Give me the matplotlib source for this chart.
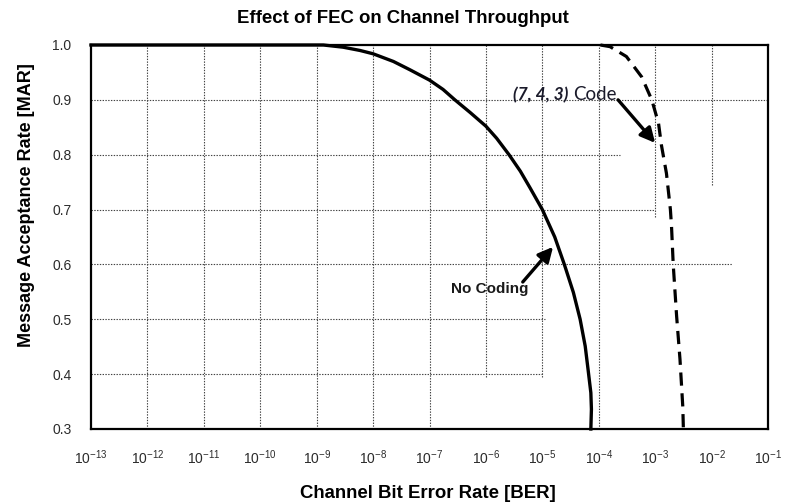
import numpy as np
import matplotlib
matplotlib.use('Agg')
import matplotlib.pyplot as plt

plt.rcParams['font.family'] = ['Liberation Sans', 'DejaVu Sans']
plt.rcParams['mathtext.fontset'] = 'custom'
plt.rcParams['mathtext.rm'] = 'Liberation Sans'
plt.rcParams['mathtext.it'] = 'Liberation Sans:italic'
plt.rcParams['lines.scale_dashes'] = False

# No Coding curve (log10 BER, MAR)
nocode_logber = [-13, -12, -11, -10, -9, -8.88, -8.53, -8.23, -8.0, -7.64, -7.35, -7.0,
                 -6.76, -6.55, -6.28, -6.0, -5.81, -5.59, -5.39, -5.22, -5.0, -4.89,
                 -4.78, -4.61, -4.45, -4.33, -4.24, -4.19, -4.14, -4.13, -4.14]
nocode_mar = [1.0, 1.0, 1.0, 1.0, 1.0, 1.0, 0.996, 0.990, 0.984, 0.970, 0.955, 0.936,
              0.919, 0.9, 0.877, 0.852, 0.830, 0.8, 0.770, 0.740, 0.70, 0.675,
              0.65, 0.60, 0.549, 0.5, 0.451, 0.409, 0.366, 0.336, 0.3]

# (7, 4, 3) code curve
code_logber = [-3.97, -3.80, -3.51, -3.24, -3.06, -2.94, -2.89, -2.80, -2.73, -2.71,
               -2.68, -2.62, -2.56, -2.51, -2.50]
code_mar = [1.0, 0.997, 0.979, 0.942, 0.9, 0.857, 0.818, 0.766, 0.70, 0.669,
            0.6, 0.506, 0.427, 0.34, 0.3]

# gridlines as they appear (some are cut short in the original)
vgrid_exp = [-12, -11, -10, -9, -8, -7, -6, -5, -4, -3, -2]
vgrid_low = [0.3, 0.3, 0.3, 0.3, 0.3, 0.3, 0.395, 0.395, 0.3, 0.687, 0.745]
hgrid_y = [0.4, 0.5, 0.6, 0.7, 0.8, 0.9]
hgrid_end = [-4.99, -4.95, -1.644, -3.0, -3.62, -1.0]

xtick_exp = list(range(-13, 0))
ytick_vals = [0.3, 0.4, 0.5, 0.6, 0.7, 0.8, 0.9, 1.0]

W, H = 787, 504
fig = plt.figure(figsize=(W / 100, H / 100), dpi=100)
ax = fig.add_axes([91 / W, 1 - 429 / H, 677 / W, 384 / H])
ax.set_xscale('log')
ax.set_xlim(1e-13, 1e-1)
ax.set_ylim(0.3, 1.0)

grid_kw = dict(color='#444444', lw=0.8, linestyle=(0, (1, 1)), zorder=1)
ax.vlines([10.0 ** e for e in vgrid_exp], vgrid_low, 1.0, **grid_kw)
ax.hlines(hgrid_y, 1e-13, [10.0 ** e for e in hgrid_end], **grid_kw)

ax.plot(10.0 ** np.array(nocode_logber), nocode_mar, color='black', lw=2.4,
        solid_joinstyle='round', zorder=3, clip_on=False)
ax.plot(10.0 ** np.array(code_logber), code_mar, color='black', lw=2.3,
        dashes=(9.5, 5.5), zorder=3, clip_on=False)

ax.set_xticks([10.0 ** e for e in xtick_exp])
ax.set_xticklabels([r'$10^{%d}$' % e for e in xtick_exp])
ax.xaxis.set_minor_locator(matplotlib.ticker.NullLocator())
ax.set_yticks(ytick_vals)
ax.set_yticklabels(['%.1f' % v for v in ytick_vals])
ax.tick_params(axis='both', length=0, labelsize=10, labelcolor='#2b2b2b')
ax.tick_params(axis='x', pad=14)
ax.tick_params(axis='y', pad=14)

for s in ax.spines.values():
    s.set_linewidth(1.6)
    s.set_color('black')
    s.set_zorder(4)

arrow_kw = dict(arrowstyle='-|>', color='black', lw=2.4, mutation_scale=22,
                shrinkA=0, shrinkB=0)
ax.annotate('', xy=(1.55e-5, 0.632), xytext=(4.5e-6, 0.568), arrowprops=arrow_kw, zorder=5)
ax.text(10 ** -6.625, 0.5477, 'No Coding', fontsize=11, fontweight='bold',
        ha='left', va='baseline', color='#1a1a1a')

ax.annotate('', xy=(1.0e-3, 0.8215), xytext=(2.2e-4, 0.9), arrowprops=arrow_kw, zorder=5)
ax.text(10 ** -5.515, 0.9, '(7, 4, 3)', fontsize=12.5, style='italic', fontweight='bold',
        family=['Lato'], ha='left', va='baseline', color='#1a1a2a')
ax.text(10 ** -4.462, 0.9, 'Code', fontsize=13.5, family=['Lato'],
        ha='left', va='baseline', color='#1a1a2a')

fig.text(403 / W, 1 - 23.3 / H, 'Effect of FEC on Channel Throughput', fontsize=13.4,
         fontweight='bold', ha='center', va='baseline')
fig.text(428 / W, 1 - 498 / H, 'Channel Bit Error Rate [BER]', fontsize=13.4,
         fontweight='bold', ha='center', va='baseline')
fig.text(30.7 / W, 1 - 205.5 / H, 'Message Acceptance Rate [MAR]', fontsize=13,
         fontweight='bold', ha='center', va='baseline', rotation=90, rotation_mode='anchor')

fig.savefig('out.png', dpi=100)
